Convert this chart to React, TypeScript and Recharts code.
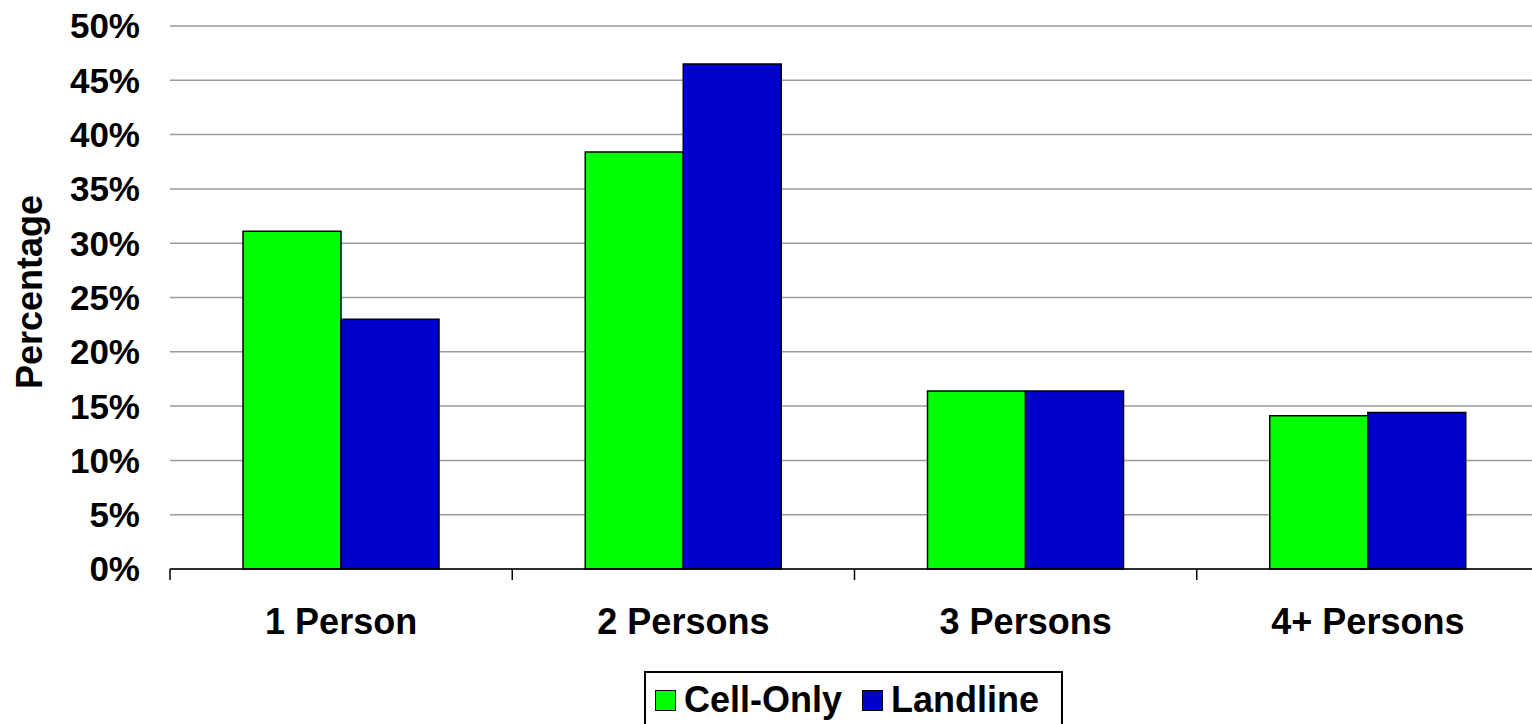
import { Bar, BarChart, CartesianGrid, Legend, XAxis, YAxis } from "recharts";

const categories = ["1 Person", "2 Persons", "3 Persons", "4+ Persons"];
const cellOnly = [31.1, 38.4, 16.4, 14.1];
const landline = [23.0, 46.5, 16.4, 14.4];
const yTicks = [0, 5, 10, 15, 20, 25, 30, 35, 40, 45, 50];

const GREEN = "#00ff00";
const BLUE = "#0000cc";
const FONT = "'Liberation Sans', Arial, sans-serif";

const chartData = categories.map((name, i) => ({
  name,
  "Cell-Only": cellOnly[i],
  Landline: landline[i],
}));

function CategoryTick(props: any) {
  const { x, y, payload } = props;
  const half = payload?.offset ?? 171;
  return (
    <g>
      <line x1={x - half} x2={x - half} y1={y} y2={y + 11} stroke="#000" strokeWidth={1.5} />
      <text
        x={x}
        y={y + 65}
        textAnchor="middle"
        fontFamily={FONT}
        fontWeight="bold"
        fontSize={36}
        fill="#000"
      >
        {payload.value}
      </text>
    </g>
  );
}

function AxisTitle() {
  return (
    <text
      x={42}
      y={292}
      transform="rotate(-90, 42, 292)"
      textAnchor="middle"
      fontFamily={FONT}
      fontWeight="bold"
      fontSize={36}
      fill="#000"
    >
      Percentage
    </text>
  );
}

function LegendBox() {
  const items = [
    { label: "Cell-Only", color: GREEN },
    { label: "Landline", color: BLUE },
  ];
  return (
    <div
      style={{
        width: 419,
        height: 58,
        boxSizing: "border-box",
        border: "2px solid #000",
        background: "#fff",
        display: "flex",
        alignItems: "center",
        paddingLeft: 9,
        fontFamily: FONT,
        fontWeight: "bold",
        fontSize: 36,
        color: "#000",
      }}
    >
      {items.map((it, i) => (
        <div key={it.label} style={{ display: "flex", alignItems: "center", marginLeft: i ? 20 : 0 }}>
          <span
            style={{
              width: 21,
              height: 21,
              boxSizing: "border-box",
              border: "1.5px solid #000",
              background: it.color,
              marginRight: 8,
              display: "inline-block",
            }}
          />
          <span style={{ lineHeight: 1 }}>{it.label}</span>
        </div>
      ))}
    </div>
  );
}

export default function App() {
  return (
    <div
      style={{
        position: "absolute",
        left: 0,
        top: 0,
        width: 1532,
        height: 724,
        overflow: "hidden",
        background: "#fff",
      }}
    >
      <BarChart
        width={1545}
        height={724}
        data={chartData}
        margin={{ top: 26, right: 6, left: 0, bottom: 55 }}
        barCategoryGap={73}
        barGap={0}
      >
        <CartesianGrid vertical={false} stroke="#9a9a9a" strokeWidth={1.5} />
        <XAxis
          dataKey="name"
          height={100}
          interval={0}
          axisLine={{ stroke: "#000", strokeWidth: 1.5 }}
          tickLine={false}
          tickSize={0}
          tickMargin={0}
          tick={<CategoryTick />}
        />
        <YAxis
          width={170}
          domain={[0, 50]}
          ticks={yTicks}
          interval={0}
          axisLine={false}
          tickLine={false}
          tickSize={0}
          tickMargin={30}
          tickFormatter={(v: number) => `${v}%`}
          tick={{ fontFamily: FONT, fontWeight: "bold", fontSize: 35, fill: "#000" }}
          label={<AxisTitle />}
        />
        <Legend
          layout="horizontal"
          verticalAlign="middle"
          align="center"
          content={<LegendBox />}
          wrapperStyle={{ position: "absolute", left: 644, top: 671, width: 419 }}
        />
        <Bar dataKey="Cell-Only" fill={GREEN} stroke="#000" strokeWidth={1.5} isAnimationActive={false} />
        <Bar dataKey="Landline" fill={BLUE} stroke="#000" strokeWidth={1.5} isAnimationActive={false} />
      </BarChart>
    </div>
  );
}
